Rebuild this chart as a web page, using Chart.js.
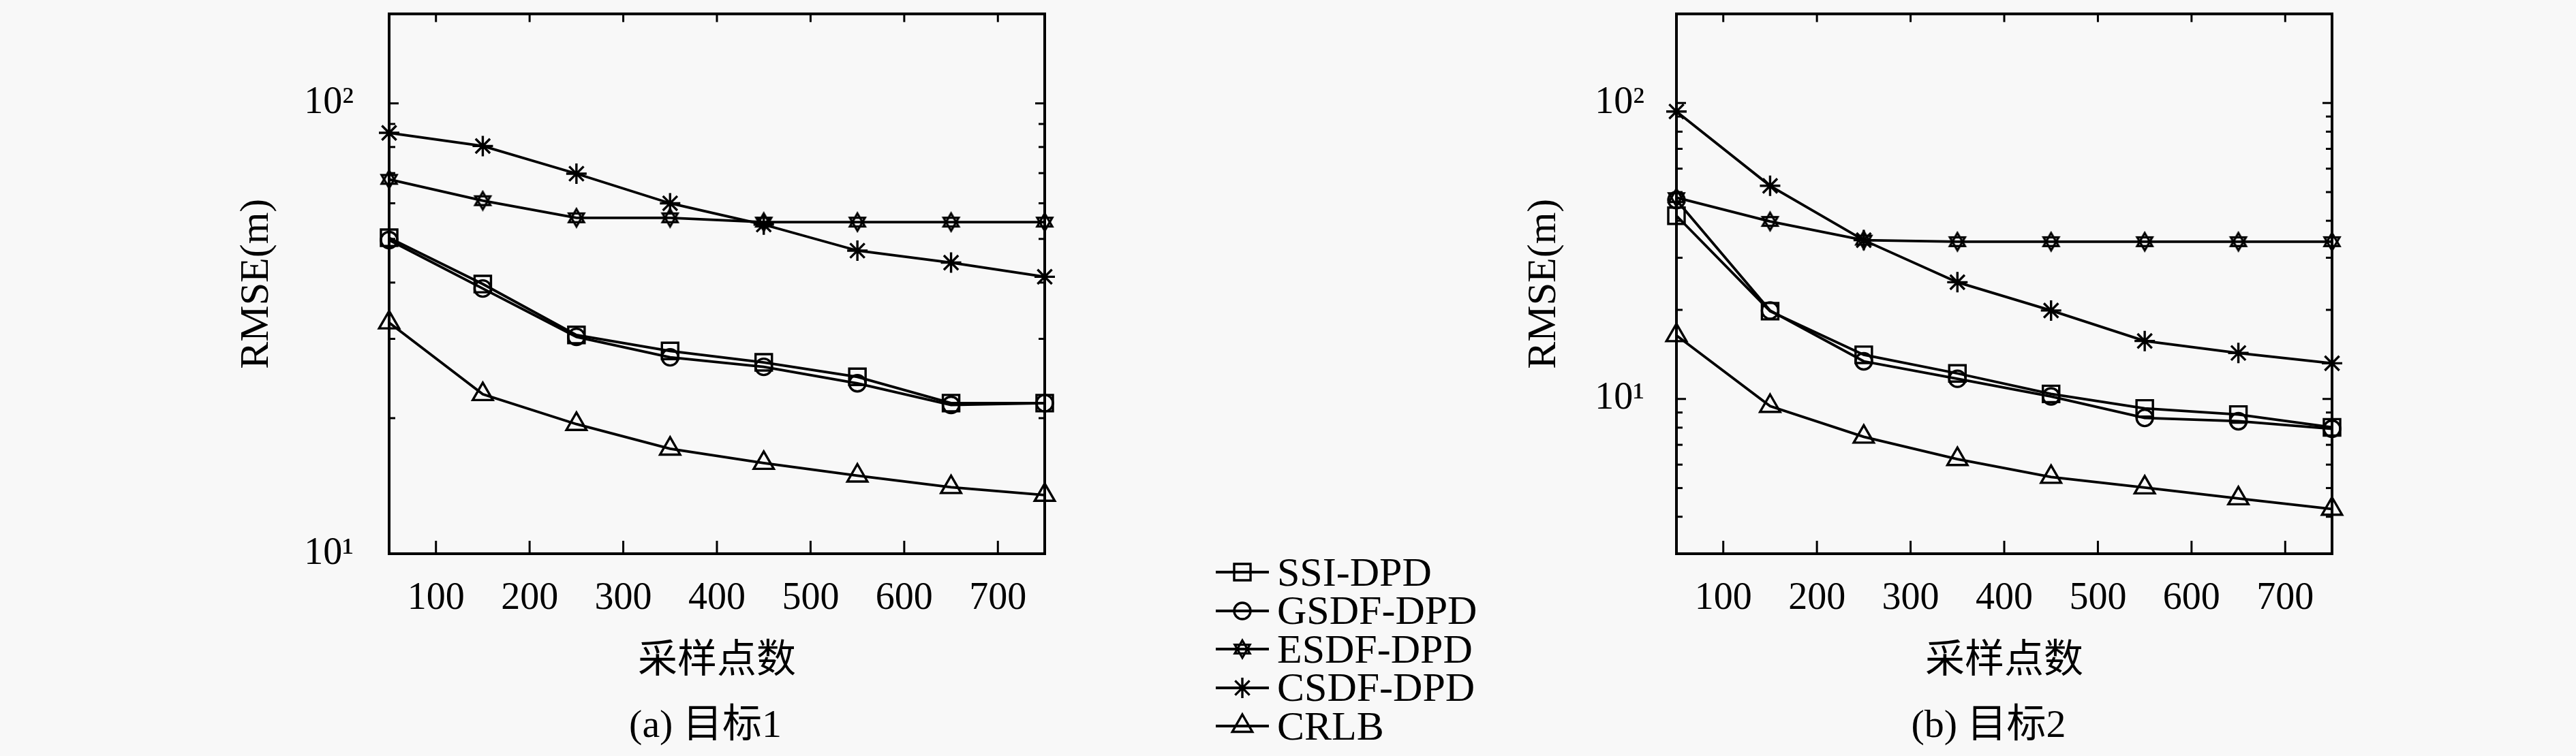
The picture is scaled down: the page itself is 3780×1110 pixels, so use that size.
<!DOCTYPE html>
<html>
<head>
<meta charset="utf-8">
<script src="https://cdn.jsdelivr.net/npm/chart.js@4.4.1/dist/chart.umd.min.js"></script>
<style>
  html, body { margin: 0; padding: 0; background: #f8f8f8; }
  body { width: 3780px; height: 1110px; position: relative; overflow: hidden;
         font-family: "Liberation Serif", "Noto Sans CJK SC", serif; color: #000; }
  canvas.plot { position: absolute; top: 0; }
  #cvA { left: 0; }
  #cvB { left: 1889px; }
  .cap { position: absolute; top: 1030px; font-size: 58px; line-height: 66px; white-space: nowrap;
         transform: translateX(-50%); }
  #legend { position: absolute; left: 1782px; top: 812px; }
  .lg-row { height: 56.5px; display: flex; align-items: center; font-size: 60px; }
  .lg-row canvas { margin-right: 10px; }
</style>
</head>
<body>
<canvas id="cvA" class="plot" width="1650" height="1110"></canvas>
<canvas id="cvB" class="plot" width="1891" height="1110"></canvas>
<div class="cap" style="left:1035px">(a) 目标1</div>
<div class="cap" style="left:2918px">(b) 目标2</div>
<div id="legend"></div>
<script>
  // ── data ────────────────────────────────────────────────────
  const sampleCounts = [50, 150, 250, 350, 450, 550, 650, 750];
  const xTickValues = [100, 200, 300, 400, 500, 600, 700];
  const seriesNames = ['SSI-DPD', 'GSDF-DPD', 'ESDF-DPD', 'CSDF-DPD', 'CRLB'];

  // (a) 目标1
  const ssiA  = [50.3, 39.7, 30.6, 28.2, 26.6, 24.7, 21.6, 21.6];
  const gsdfA = [49.7, 38.8, 30.3, 27.3, 26.0, 23.9, 21.4, 21.6];
  const esdfA = [67.8, 60.8, 55.7, 55.7, 54.5, 54.5, 54.5, 54.5];
  const csdfA = [86.0, 80.4, 69.8, 60.0, 53.8, 47.1, 44.3, 41.2];
  const crlbA = [32.6, 22.6, 19.4, 17.1, 15.9, 14.9, 14.05, 13.5];

  // (b) 目标2
  const ssiB  = [41.6, 19.8, 14.1, 12.2, 10.4, 9.29, 8.86, 8.02];
  const gsdfB = [47.0, 19.9, 13.4, 11.7, 10.2, 8.63, 8.41, 7.93];
  const esdfB = [47.9, 39.8, 34.4, 34.0, 34.0, 34.0, 34.0, 34.0];
  const csdfB = [93.6, 52.5, 34.4, 24.8, 19.9, 15.7, 14.3, 13.2];
  const crlbB = [16.4, 9.46, 7.45, 6.26, 5.45, 5.02, 4.61, 4.25];

  const yRangeA = [10, 158];
  const yRangeB = [3, 200];
  const yMajorTicks = [10, 100];
  const yMinorTicksA = [20, 30, 40, 50, 60, 70, 80, 90];
  const yMinorTicksB = [4, 5, 6, 7, 8, 9, 20, 30, 40, 50, 60, 70, 80, 90];

  const SERIF = '"Liberation Serif", "Noto Sans CJK SC", serif';
  // 绘图区在各自画布里的位置（像素）
  const AREA = { left: 571, right: 1533, top: 10, bottom: 813 };

  // ── markers ────────────────────────────────────────────────
  // 六角星（ESDF）— Chart.js 没有这个点样式，用小画布代替
  function hexagram(size, lw) {
    const c = document.createElement('canvas');
    c.width = c.height = size;
    const g = c.getContext('2d');
    const r = size / 2 - lw;
    g.lineWidth = lw; g.strokeStyle = '#000';
    [-Math.PI / 2, Math.PI / 2].forEach(a0 => {
      g.beginPath();
      for (let k = 0; k < 3; k++) {
        const a = a0 + k * 2 * Math.PI / 3;
        const px = size / 2 + r * Math.cos(a), py = size / 2 + r * Math.sin(a);
        if (k) g.lineTo(px, py); else g.moveTo(px, py);
      }
      g.closePath(); g.stroke();
    });
    return c;
  }
  const hexImg = hexagram(32, 3.2);
  const markers = [
    { pointStyle: 'rect', radius: 17 },
    { pointStyle: 'circle', radius: 12 },
    { pointStyle: hexImg, radius: 15 },
    { pointStyle: 'star', radius: 15 },
    { pointStyle: 'triangle', radius: 17 },
  ];

  function makeDatasets(arrays) {
    return arrays.map((vals, i) => ({
      label: seriesNames[i],
      data: vals.map((v, j) => ({ x: sampleCounts[j], y: v })),
      borderColor: '#000', borderWidth: 3.8,
      pointStyle: markers[i].pointStyle, pointRadius: markers[i].radius,
      pointBorderColor: '#000', pointBorderWidth: 3.4, pointBackgroundColor: 'rgba(0,0,0,0)',
      tension: 0, clip: false,
    }));
  }

  // 边框 + 向内刻度（四边）
  const framePlugin = {
    id: 'frame',
    afterDraw(chart, args, opts) {
      const { ctx, chartArea: a, scales: { x, y } } = chart;
      const seg = (x1, y1, x2, y2) => { ctx.beginPath(); ctx.moveTo(x1, y1); ctx.lineTo(x2, y2); ctx.stroke(); };
      ctx.save();
      ctx.strokeStyle = '#000';
      ctx.lineWidth = 3;
      xTickValues.forEach(v => {
        const px = x.getPixelForValue(v);
        seg(px, a.bottom, px, a.bottom - 19);
        seg(px, a.top, px, a.top + 12);
      });
      yMajorTicks.forEach(v => {
        if (v < y.min || v > y.max) return;
        const py = y.getPixelForValue(v);
        seg(a.left, py, a.left + 14, py);
        seg(a.right, py, a.right - 14, py);
      });
      opts.minor.forEach(v => {
        const py = y.getPixelForValue(v);
        seg(a.left, py, a.left + 9, py);
        seg(a.right, py, a.right - 9, py);
      });
      ctx.lineWidth = 4;
      ctx.strokeRect(a.left, a.top, a.right - a.left, a.bottom - a.top);
      ctx.restore();
    }
  };

  function makeChart(id, arrays, yRange, minor, canvasW, yLabelPad) {
    const chart = new Chart(document.getElementById(id), {
      type: 'line',
      data: { datasets: makeDatasets(arrays) },
      plugins: [framePlugin],
      options: {
        responsive: false, animation: false, devicePixelRatio: 1,
        layout: { padding: { left: 0, top: AREA.top, right: canvasW - AREA.right, bottom: 0 } },
        plugins: { legend: { display: false }, tooltip: { enabled: false }, frame: { minor } },
        scales: {
          x: {
            type: 'linear', min: sampleCounts[0], max: sampleCounts[sampleCounts.length - 1],
            afterBuildTicks: s => { s.ticks = xTickValues.map(v => ({ value: v })); },
            afterFit: s => { s.height = 1110 - AREA.bottom; s.paddingLeft = 0; s.paddingRight = 0; },
            grid: { display: false, drawTicks: false }, border: { display: false },
            ticks: { color: '#000', padding: 33, maxRotation: 0, autoSkip: false,
                     font: { family: SERIF, size: 56 } },
            title: { display: true, text: '采样点数', color: '#000',
                     font: { family: SERIF, size: 58 }, padding: { top: 0, bottom: 103 } },
          },
          y: {
            type: 'logarithmic', min: yRange[0], max: yRange[1],
            afterBuildTicks: s => { s.ticks = yMajorTicks.filter(v => v >= yRange[0] && v <= yRange[1]).map(v => ({ value: v })); },
            afterFit: s => { s.width = AREA.left; s.paddingTop = 0; s.paddingBottom = 0; },
            grid: { display: false, drawTicks: false }, border: { display: false },
            ticks: { color: '#000', padding: yLabelPad, autoSkip: false,
                     font: { family: SERIF, size: 56 },
                     callback: v => v === 100 ? '10²' : v === 10 ? '10¹' : '' },
            title: { display: true, text: 'RMSE(m)', color: '#000',
                     font: { family: SERIF, size: 60 }, padding: { top: 341, bottom: 0 } },
          },
        },
      },
    });
    // 若布局仍有偏移，按实际 chartArea 微调一次
    const ca = chart.chartArea, pad = chart.options.layout.padding;
    const dTop = AREA.top - ca.top, dBottom = ca.bottom - AREA.bottom;
    if (Math.abs(dTop) > 0.5 || Math.abs(dBottom) > 0.5) {
      pad.top += dTop;
      pad.bottom += dBottom;
      chart.update();
    }
    return chart;
  }

  makeChart('cvA', [ssiA, gsdfA, esdfA, csdfA, crlbA], yRangeA, yMinorTicksA, 1650, 52);
  makeChart('cvB', [ssiB, gsdfB, esdfB, csdfB, crlbB], yRangeB, yMinorTicksB, 1891, 47);

  // ── legend (HTML rows, markers drawn with Chart.js helper) ──
  const legend = document.getElementById('legend');
  seriesNames.forEach((name, i) => {
    const row = document.createElement('div');
    row.className = 'lg-row';
    const c = document.createElement('canvas');
    c.width = 82; c.height = 56;
    const g = c.getContext('2d');
    g.strokeStyle = '#000'; g.lineWidth = 3.8;
    g.beginPath(); g.moveTo(2, 28); g.lineTo(80, 28); g.stroke();
    g.lineWidth = 3.4;
    g.fillStyle = 'rgba(0,0,0,0)';
    Chart.helpers.drawPoint(g, { pointStyle: markers[i].pointStyle, radius: markers[i].radius, rotation: 0, borderWidth: 3.4 }, 41, 28);
    const span = document.createElement('span');
    span.textContent = name;
    row.appendChild(c); row.appendChild(span);
    legend.appendChild(row);
  });
</script>
</body>
</html>
